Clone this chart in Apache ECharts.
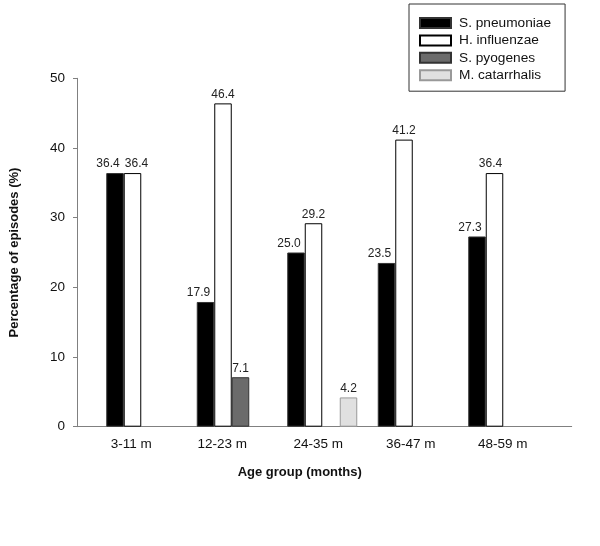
<!DOCTYPE html>
<html>
<head>
<meta charset="utf-8">
<script src="https://cdn.jsdelivr.net/npm/echarts@6/dist/echarts.min.js"></script>
<style>
html,body{margin:0;padding:0;background:#fff;}
#chart{width:600px;height:546px;}
</style>
</head>
<body>
<div id="chart"></div>
<script>
const categories = ['3-11 m', '12-23 m', '24-35 m', '36-47 m', '48-59 m'];
const seriesNames = ['S. pneumoniae', 'H. influenzae', 'S. pyogenes', 'M. catarrhalis'];
const pneumoniae = [36.4, 17.9, 25.0, 23.5, 27.3];
const influenzae = [36.4, 46.4, 29.2, 41.2, 36.4];
const pyogenes = [null, 7.1, null, null, null];
const catarrhalis = [null, null, 4.2, null, null];
const yTicks = { min: 0, max: 50, interval: 10 };

const FONT = 'Liberation Sans, Arial, sans-serif';
const labelShift = [20, 19, 8, 4, 1];
const rich = {};
labelShift.forEach((s, i) => {
  rich['s' + i] = { padding: [0, s, 0, 0], fontSize: 13.5, fontFamily: FONT, color: '#111' };
});

const styles = [
  { color: '#000000', borderColor: '#333333', labelDx: [-7, -7, -7, -7, -7] },
  { color: '#ffffff', borderColor: '#000000', labelDx: [4, 0, 0, 0, -4] },
  { color: '#6b6b6b', borderColor: '#333333', labelDx: [0, 0, 0, 0, 0] },
  { color: '#e0e0e0', borderColor: '#999999', labelDx: [0, 0, 0, 0, 0] }
];
const dataSets = [pneumoniae, influenzae, pyogenes, catarrhalis];

const chart = echarts.init(document.getElementById('chart'), null, { renderer: 'canvas' });
const option = {
  animation: false,
  backgroundColor: '#ffffff',
  textStyle: { fontFamily: FONT },
  legend: {
    orient: 'vertical',
    left: 409,
    top: 4,
    padding: [12, 14, 9, 10],
    borderColor: '#333333',
    borderWidth: 1,
    itemWidth: 31,
    itemHeight: 10,
    itemGap: 3.4,
    icon: 'rect',
    textStyle: { fontSize: 13.7, fontFamily: FONT, color: '#111', lineHeight: 13, padding: [0, 0, 0, 3] },
    data: seriesNames
  },
  grid: [
    { left: 96, width: 452.5, top: 78.3, bottom: 119.3, containLabel: false },
    { left: 73.5, right: 28.3, top: 78.3, bottom: 119.3, containLabel: false }
  ],
  xAxis: [
    {
      type: 'category',
      gridIndex: 0,
      data: categories,
      axisLine: { show: false },
      axisTick: { show: false },
      axisLabel: {
        margin: 11,
        formatter: (v, i) => '{s' + i + '|' + v + '}',
        rich: rich
      },
      name: 'Age group (months)',
      nameLocation: 'middle',
      nameGap: 39,
      nameTextStyle: { fontSize: 13, fontWeight: 'bold', fontFamily: FONT, color: '#111', padding: [0, 45, 0, 0] }
    },
    {
      type: 'value',
      gridIndex: 1,
      min: 0, max: 1,
      axisLine: { show: true, lineStyle: { color: '#808080', width: 1 } },
      axisTick: { show: false },
      axisLabel: { show: false },
      splitLine: { show: false }
    }
  ],
  yAxis: [
    {
      type: 'value',
      gridIndex: 0,
      min: yTicks.min, max: yTicks.max, interval: yTicks.interval,
      show: false
    },
    {
      type: 'value',
      gridIndex: 1,
      min: yTicks.min, max: yTicks.max, interval: yTicks.interval,
      axisLine: { show: true, lineStyle: { color: '#808080', width: 1 } },
      axisTick: { show: true, inside: false, length: 4, lineStyle: { color: '#808080' } },
      axisLabel: { fontSize: 13.5, fontFamily: FONT, color: '#111', margin: 12 },
      splitLine: { show: false },
      name: 'Percentage of episodes (%)',
      nameLocation: 'middle',
      nameGap: 56,
      nameTextStyle: { fontSize: 13, fontWeight: 'bold', fontFamily: FONT, color: '#111' }
    }
  ],
  series: seriesNames.map((name, i) => ({
    name: name,
    type: 'bar',
    xAxisIndex: 0,
    yAxisIndex: 0,
    data: dataSets[i].map((v, j) => ({ value: v, label: { offset: [styles[i].labelDx[j], 0] } })),
    barWidth: 17.5,
    barGap: '0%',
    itemStyle: { color: styles[i].color, borderColor: styles[i].borderColor, borderWidth: 1 },
    label: {
      show: true,
      position: 'top',
      distance: 3,
      fontSize: 12,
      fontFamily: FONT,
      color: '#222',
      formatter: p => (p.value == null ? '' : Number(p.value).toFixed(1))
    }
  }))
};
chart.setOption(option);
</script>
</body>
</html>
